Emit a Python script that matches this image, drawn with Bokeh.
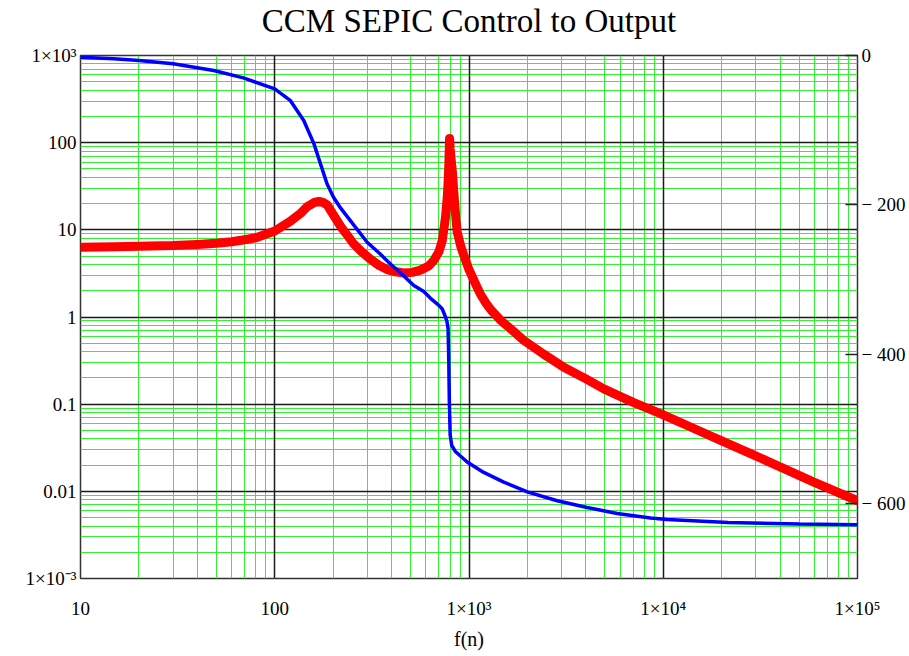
from bokeh.plotting import figure
from bokeh.models import (Range1d, LinearAxis, LogAxis, LinearScale, FixedTicker,
                          Grid, Title)
from bokeh.embed import file_html
from bokeh.resources import INLINE

# Control-to-output response of a CCM SEPIC converter
# magnitude (left, log axis) and phase in degrees (right, linear axis)
mag_freq = [10, 15, 20, 30, 40, 50, 60, 70, 80, 100, 120, 136, 147, 160, 169,
            178, 186, 198, 209, 218, 235, 255, 280, 311, 345, 379, 420, 461,
            510, 562, 620, 659, 700, 728, 757, 773, 782, 788, 794, 800, 808,
            819, 830, 841, 855, 869, 910, 959, 1000, 1050, 1100, 1150, 1220,
            1300, 1452, 1650, 1914, 2400, 3076, 4000, 4944, 7000, 9683, 14000,
            19720, 28000, 40200, 60000, 100000]
mag = [6.3, 6.4, 6.5, 6.6, 6.8, 7.0, 7.3, 7.7, 8.1, 9.7, 12.5, 15.5, 18.5,
       20.6, 21.2, 20.5, 19.3, 15.5, 12.8, 11.0, 8.8, 6.9, 5.6, 4.6, 3.9,
       3.5, 3.3, 3.2, 3.25, 3.45, 3.85, 4.45, 5.6, 7.5, 14.0, 24.0, 38.0,
       60.0, 112.0, 85.0, 66.0, 50.0, 33.0, 22.0, 14.0, 9.5, 6.3, 4.5, 3.5,
       2.75, 2.2, 1.8, 1.45, 1.2, 0.92, 0.72, 0.54, 0.38, 0.265, 0.195, 0.15,
       0.105, 0.078, 0.054, 0.0385, 0.0272, 0.019, 0.0127, 0.0078]

phase_freq = [10, 14.8, 20, 30, 48.5, 69, 100, 120, 141, 159, 172, 186, 201,
              218, 245, 299, 347, 394, 462, 520, 585, 634, 690, 727, 752, 770,
              780, 786, 792, 800, 815, 851, 978, 1191, 1510, 1995, 2845, 4060,
              5797, 8600, 10470, 21600, 50000, 100000]
phase_deg = [-2.5, -4.4, -6.7, -11, -20, -30, -44.6, -60, -87, -118, -145,
             -172, -190, -204, -221, -250, -265, -279, -295, -308, -316, -325,
             -333, -339, -348, -356, -365, -400, -462, -508, -522, -530, -544,
             -558, -571, -584, -596, -605, -613, -619, -621, -625, -627, -628]

x_decades = [10, 100, 1000, 10000, 100000]
x_labels = ["10", "100", "1×10³", "1×10⁴", "1×10⁵"]
y_decades = [0.001, 0.01, 0.1, 1, 10, 100, 1000]
y_labels = ["1×10⁻³", "0.01", "0.1", "1", "10", "100", "1×10³"]
phase_ticks = [0, -200, -400, -600]
phase_labels = ["0", "− 200", "− 400", "− 600"]

SERIF = "Liberation Serif"
TICK_SIZE = "19px"


def minor_positions(decades):
    return [k * d for d in decades[:-1] for k in range(2, 10)]


p = figure(width=909, height=656, x_axis_type="log", y_axis_type="log",
           x_range=Range1d(10, 1e5), y_range=Range1d(1e-3, 1e3),
           x_axis_location=None, y_axis_location=None,
           output_backend="svg", toolbar_location=None,
           title="CCM SEPIC Control to Output",
           min_border_left=80, min_border_right=52,
           min_border_top=55, min_border_bottom=78)
p.background_fill_color = "white"
p.border_fill_color = "white"
p.outline_line_color = "#333333"
p.outline_line_width = 1.5

p.title.text_font = SERIF
p.title.text_font_size = "33px"
p.title.text_font_style = "normal"
p.title.text_color = "black"
p.title.align = "center"
p.title.standoff = 0
# blank strip between the title and the plot frame
p.add_layout(Title(text=" ", text_font_size="1px", standoff=14), "above")

# green minor grid first, black decade lines on top
for dim, dec in ((0, x_decades), (1, y_decades)):
    p.add_layout(Grid(dimension=dim,
                      ticker=FixedTicker(ticks=dec, minor_ticks=minor_positions(dec)),
                      grid_line_color=None,
                      minor_grid_line_color="#33f033", minor_grid_line_width=1))
for dim, dec in ((0, x_decades), (1, y_decades)):
    p.add_layout(Grid(dimension=dim, ticker=FixedTicker(ticks=dec),
                      grid_line_color="#1a1a1a", grid_line_width=1.5))

p.extra_y_ranges = {"phase": Range1d(-700, 0)}
p.extra_y_scales = {"phase": LinearScale()}

p.line(mag_freq, mag, line_color="#ff0000", line_width=9,
       line_join="round", line_cap="round")
p.line(phase_freq, phase_deg, y_range_name="phase", line_color="#0000ff",
       line_width=3.5)

label_style = dict(major_label_text_font=SERIF,
                   major_label_text_font_size=TICK_SIZE,
                   major_label_text_color="black",
                   minor_tick_line_color=None, axis_line_color=None)

freq_axis = LogAxis(ticker=FixedTicker(ticks=x_decades),
                    major_label_overrides=dict(zip(x_decades, x_labels)),
                    major_tick_line_color=None, major_tick_in=0, major_tick_out=0,
                    major_label_standoff=19,
                    axis_label="f(n)", axis_label_text_font=SERIF,
                    axis_label_text_font_size="20px",
                    axis_label_text_font_style="normal",
                    axis_label_text_color="black", axis_label_standoff=6,
                    **label_style)
p.add_layout(freq_axis, "below")

mag_axis = LogAxis(ticker=FixedTicker(ticks=y_decades),
                   major_label_overrides=dict(zip(y_decades, y_labels)),
                   major_tick_line_color=None, major_tick_in=0, major_tick_out=0,
                   major_label_standoff=4, **label_style)
p.add_layout(mag_axis, "left")

phase_axis = LinearAxis(y_range_name="phase",
                        ticker=FixedTicker(ticks=phase_ticks),
                        major_label_overrides=dict(zip(phase_ticks, phase_labels)),
                        major_tick_in=12, major_tick_out=0,
                        major_tick_line_color="#222222", major_tick_line_width=1.5,
                        major_label_standoff=4, **label_style)
p.add_layout(phase_axis, "right")

open("out.html", "w").write(file_html(p, INLINE))
